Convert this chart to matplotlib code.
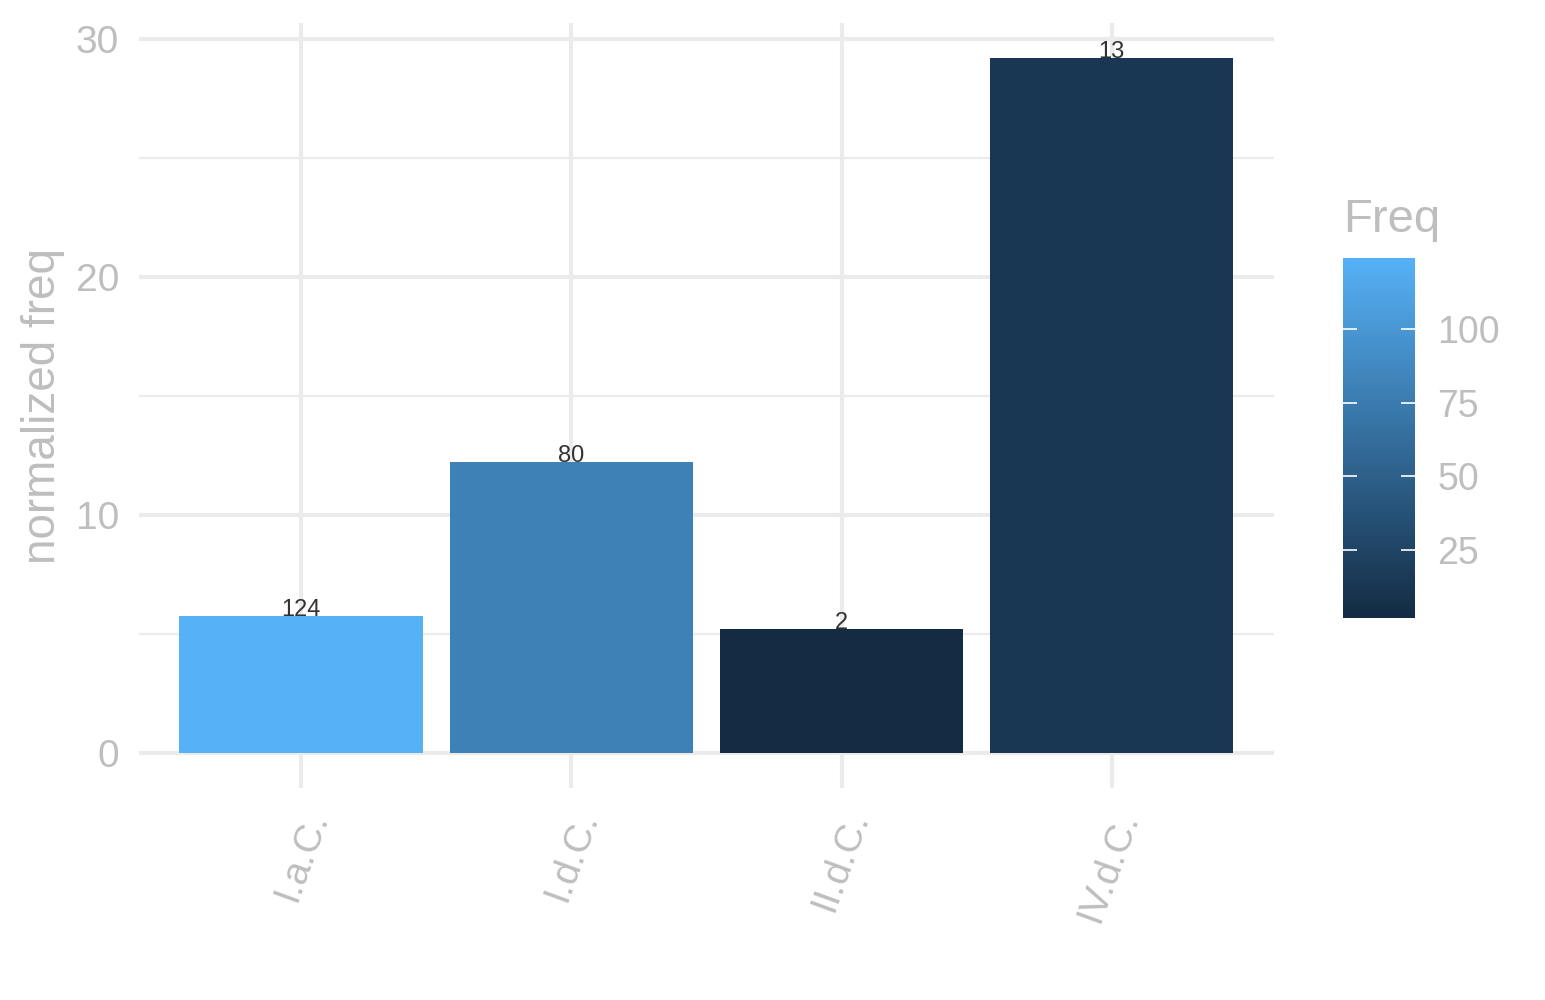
import numpy as np
import matplotlib
matplotlib.use('Agg')
import matplotlib.pyplot as plt
from matplotlib.colors import LinearSegmentedColormap, Normalize
from matplotlib.cm import ScalarMappable

# data
categories = ["I.a.C.", "I.d.C.", "II.d.C.", "IV.d.C."]
norm_freq = [5.77, 12.24, 5.22, 29.2]
freq = [124, 80, 2, 13]

plt.rcParams['font.family'] = ['Liberation Sans', 'DejaVu Sans']

grey_txt = "#BEBEBE"
grid_col = "#EBEBEB"

cmap = LinearSegmentedColormap.from_list("gg", ["#132B43", "#56B1F7"])
norm = Normalize(vmin=min(freq), vmax=max(freq))

fig = plt.figure(figsize=(15.45, 10), dpi=100)
ax = fig.add_axes([0.0898, 0.212, 0.7348, 0.765])

x = np.arange(1, len(categories) + 1)
ax.bar(x, norm_freq, width=0.9, color=cmap(norm(freq)), zorder=3)
for xi, h, f in zip(x, norm_freq, freq):
    ax.text(xi, h, str(f), ha='center', va='baseline', fontsize=17,
            color="#333333", zorder=4)

ymax = max(norm_freq)
ax.set_xlim(0.4, len(categories) + 0.6)
ax.set_ylim(-0.05 * ymax, 1.05 * ymax)

ax.set_yticks([0, 10, 20, 30])
ax.set_yticks([5, 15, 25], minor=True)
ax.set_xticks(x)
ax.set_xticklabels(categories, rotation=70, ha='right', va='top',
                   rotation_mode='anchor', fontsize=25)

ax.grid(True, which='major', color=grid_col, linewidth=3, zorder=0)
ax.grid(True, which='minor', axis='y', color=grid_col, linewidth=1.6, zorder=0)
ax.tick_params(axis='both', which='both', length=0, colors=grey_txt,
               labelsize=28)
ax.tick_params(axis='y', pad=14)
ax.tick_params(axis='x', pad=13)
for s in ax.spines.values():
    s.set_visible(False)
ax.set_ylabel("normalized freq", fontsize=33, color=grey_txt, labelpad=8)

# colourbar legend
cax = fig.add_axes([0.8693, 0.382, 0.0466, 0.36])
sm = ScalarMappable(norm=norm, cmap=cmap)
cb = fig.colorbar(sm, cax=cax, ticks=[25, 50, 75, 100])
cb.outline.set_visible(False)
cax.tick_params(direction='in', length=10, width=1.2, color='white',
                left=True, right=True, labelcolor=grey_txt, labelsize=27,
                pad=16)
fig.text(0.8693, 0.768, "Freq", fontsize=34, color=grey_txt, va='baseline')

plt.savefig("out.png", dpi=100)
